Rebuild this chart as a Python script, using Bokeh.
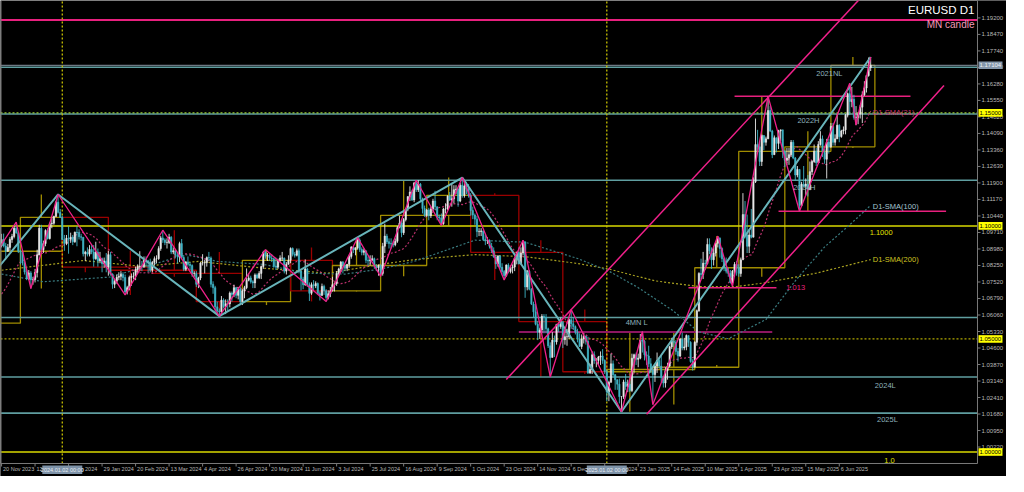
import pandas as pd
from bokeh.plotting import figure
from bokeh.models import Range1d
from bokeh.embed import file_html
from bokeh.resources import INLINE
from bokeh.core.properties import value

# ---------------- data (daily high, low, close) ----------------
pre_closes = [1.0668, 1.0590, 1.0565, 1.0563, 1.0565, 1.0615, 1.0575, 1.0570, 1.0620, 1.0730,
              1.0720, 1.0700, 1.0710, 1.0667, 1.0685, 1.0700, 1.0880, 1.0850, 1.0850, 1.0912]
nov_2023_month = (1.0570, 1.1017, 1.0517)  # month open, high, low (month began before view)

m2023_11 = [(1.0965,1.0905,1.0940),(1.0966,1.0905,1.0911),(1.0925,1.0852,1.0888),(1.0920,1.0885,1.0905),
            (1.0950,1.0890,1.0940),(1.0965,1.0925,1.0953),(1.1000,1.0945,1.0990),(1.1017,1.0965,1.0970),
            (1.0975,1.0880,1.0888)]
m2023_12 = [(1.0895,1.0830,1.0884),(1.0885,1.0825,1.0836),(1.0845,1.0785,1.0796),(1.0805,1.0760,1.0765),
            (1.0805,1.0760,1.0792),(1.0800,1.0723,1.0762),(1.0775,1.0740,1.0763),(1.0810,1.0750,1.0794),
            (1.0895,1.0772,1.0872),(1.1005,1.0870,1.0990),(1.1005,1.0890,1.0895),(1.0935,1.0880,1.0922),
            (1.0985,1.0910,1.0980),(1.0990,1.0940,1.0944),(1.1015,1.0940,1.1010),(1.1040,1.0990,1.1012),
            (1.1045,1.1005,1.1042),(1.1110,1.1040,1.1105),(1.1139,1.1055,1.1060),(1.1075,1.1035,1.1038)]
m2024_01 = [(1.1045,1.0938,1.0940),(1.0960,1.0890,1.0922),(1.0960,1.0915,1.0946),(1.0998,1.0877,1.0941),
            (1.0970,1.0925,1.0950),(1.0960,1.0915,1.0930),(1.0975,1.0925,1.0972),(1.0999,1.0910,1.0970),
            (1.0985,1.0940,1.0952),(1.0965,1.0935,1.0950),(1.0950,1.0865,1.0877),(1.0890,1.0845,1.0884),
            (1.0905,1.0865,1.0875),(1.0915,1.0865,1.0896),(1.0915,1.0875,1.0885),(1.0915,1.0820,1.0855),
            (1.0930,1.0850,1.0884),(1.0900,1.0820,1.0845),(1.0885,1.0835,1.0855),(1.0860,1.0795,1.0833),
            (1.0860,1.0815,1.0845),(1.0880,1.0795,1.0818)]
m2024_02 = [(1.0890,1.0780,1.0873),(1.0885,1.0780,1.0787),(1.0790,1.0722,1.0742),(1.0765,1.0725,1.0755),
            (1.0785,1.0745,1.0773),(1.0795,1.0760,1.0777),(1.0800,1.0760,1.0785),(1.0795,1.0755,1.0772),
            (1.0785,1.0695,1.0708),(1.0735,1.0697,1.0727),(1.0780,1.0715,1.0772),(1.0790,1.0735,1.0777),
            (1.0795,1.0765,1.0777),(1.0820,1.0760,1.0807),(1.0830,1.0790,1.0820),(1.0888,1.0800,1.0822),
            (1.0845,1.0800,1.0820),(1.0865,1.0815,1.0850),(1.0865,1.0820,1.0845),(1.0850,1.0795,1.0840),
            (1.0855,1.0795,1.0804)]
m2024_03 = [(1.0845,1.0795,1.0838),(1.0865,1.0825,1.0855),(1.0870,1.0835,1.0855),(1.0910,1.0850,1.0900),
            (1.0955,1.0890,1.0947),(1.0981,1.0925,1.0938),(1.0945,1.0915,1.0927),(1.0945,1.0900,1.0927),
            (1.0965,1.0920,1.0950),(1.0955,1.0875,1.0885),(1.0905,1.0875,1.0890),(1.0895,1.0860,1.0870),
            (1.0880,1.0835,1.0865),(1.0930,1.0840,1.0922),(1.0942,1.0855,1.0860),(1.0870,1.0800,1.0808),
            (1.0845,1.0800,1.0840),(1.0865,1.0820,1.0830),(1.0840,1.0805,1.0825),(1.0830,1.0775,1.0790),
            (1.0800,1.0775,1.0790)]
m2024_04 = [(1.0800,1.0730,1.0742),(1.0775,1.0725,1.0770),(1.0840,1.0760,1.0836),(1.0875,1.0825,1.0837),
            (1.0850,1.0790,1.0837),(1.0865,1.0820,1.0860),(1.0885,1.0845,1.0858),(1.0865,1.0728,1.0742),
            (1.0755,1.0700,1.0727),(1.0735,1.0620,1.0642),(1.0665,1.0615,1.0624),(1.0635,1.0601,1.0620),
            (1.0690,1.0612,1.0672),(1.0680,1.0635,1.0643),(1.0675,1.0610,1.0656),(1.0675,1.0625,1.0655),
            (1.0710,1.0640,1.0703),(1.0710,1.0665,1.0697),(1.0740,1.0685,1.0727),(1.0730,1.0680,1.0693),
            (1.0730,1.0675,1.0720),(1.0730,1.0650,1.0665)]
m2024_05 = [(1.0720,1.0650,1.0713),(1.0735,1.0680,1.0727),(1.0812,1.0720,1.0760),(1.0790,1.0755,1.0770),
            (1.0780,1.0745,1.0753),(1.0760,1.0725,1.0748),(1.0790,1.0725,1.0783),(1.0790,1.0765,1.0771),
            (1.0800,1.0765,1.0790),(1.0825,1.0765,1.0820),(1.0890,1.0810,1.0883),(1.0895,1.0855,1.0866),
            (1.0880,1.0845,1.0870),(1.0880,1.0845,1.0858),(1.0875,1.0840,1.0855),(1.0860,1.0815,1.0822),
            (1.0860,1.0805,1.0818),(1.0855,1.0810,1.0847),(1.0870,1.0840,1.0858),(1.0885,1.0845,1.0858),
            (1.0860,1.0790,1.0800),(1.0840,1.0785,1.0830),(1.0870,1.0830,1.0848)]
m2024_06 = [(1.0905,1.0835,1.0900),(1.0905,1.0865,1.0875),(1.0885,1.0860,1.0870),(1.0900,1.0865,1.0890),
            (1.0900,1.0790,1.0800),(1.0800,1.0715,1.0765),(1.0775,1.0720,1.0740),(1.0852,1.0735,1.0810),
            (1.0815,1.0730,1.0740),(1.0750,1.0668,1.0702),(1.0750,1.0695,1.0740),(1.0760,1.0715,1.0735),
            (1.0755,1.0725,1.0745),(1.0750,1.0695,1.0700),(1.0710,1.0670,1.0693),(1.0745,1.0690,1.0732),
            (1.0740,1.0695,1.0713),(1.0720,1.0666,1.0683),(1.0715,1.0675,1.0700),(1.0730,1.0685,1.0713)]
m2024_07 = [(1.0775,1.0710,1.0740),(1.0750,1.0710,1.0745),(1.0800,1.0735,1.0790),(1.0815,1.0780,1.0810),
            (1.0845,1.0795,1.0840),(1.0845,1.0790,1.0825),(1.0830,1.0800,1.0813),(1.0830,1.0800,1.0830),
            (1.0872,1.0815,1.0865),(1.0910,1.0855,1.0907),(1.0910,1.0880,1.0894),(1.0905,1.0870,1.0903),
            (1.0948,1.0895,1.0938),(1.0945,1.0885,1.0896),(1.0905,1.0870,1.0883),(1.0900,1.0870,1.0890),
            (1.0890,1.0835,1.0848),(1.0865,1.0825,1.0845),(1.0870,1.0825,1.0850),(1.0870,1.0845,1.0855),
            (1.0860,1.0810,1.0822),(1.0830,1.0800,1.0815),(1.0830,1.0780,1.0825)]
m2024_08 = [(1.0830,1.0777,1.0790),(1.0925,1.0780,1.0910),(1.1010,1.0880,1.0955),(1.0965,1.0920,1.0930),
            (1.0945,1.0900,1.0922),(1.0945,1.0900,1.0920),(1.0935,1.0905,1.0917),(1.0945,1.0910,1.0932),
            (1.1000,1.0925,1.0992),(1.1045,1.0990,1.1012),(1.1030,1.0950,1.0970),(1.1035,1.0960,1.1028),
            (1.1080,1.1020,1.1075),(1.1130,1.1065,1.1130),(1.1175,1.1110,1.1150),(1.1160,1.1110,1.1115),
            (1.1195,1.1105,1.1190),(1.1202,1.1150,1.1160),(1.1202,1.1150,1.1185),(1.1190,1.1110,1.1120),
            (1.1125,1.1055,1.1077),(1.1090,1.1040,1.1047)]
m2024_09 = [(1.1075,1.1040,1.1070),(1.1080,1.1025,1.1045),(1.1085,1.1035,1.1075),(1.1120,1.1065,1.1110),
            (1.1155,1.1070,1.1085),(1.1085,1.1025,1.1040),(1.1050,1.1020,1.1035),(1.1055,1.1002,1.1010),
            (1.1080,1.1005,1.1075),(1.1100,1.1055,1.1075),(1.1135,1.1070,1.1132),(1.1150,1.1110,1.1115),
            (1.1190,1.1085,1.1120),(1.1180,1.1100,1.1160),(1.1180,1.1140,1.1163),(1.1170,1.1085,1.1110),
            (1.1190,1.1105,1.1180),(1.1214,1.1125,1.1135),(1.1190,1.1125,1.1177),(1.1195,1.1140,1.1163),
            (1.1185,1.1125,1.1135)]
m2024_10 = [(1.1145,1.1045,1.1068),(1.1085,1.1030,1.1048),(1.1055,1.1005,1.1030),(1.1045,1.0950,1.0975),
            (1.0990,1.0955,1.0975),(1.0990,1.0955,1.0978),(1.0980,1.0935,1.0940),(1.0960,1.0915,1.0935),
            (1.0950,1.0920,1.0937),(1.0940,1.0900,1.0910),(1.0925,1.0880,1.0890),(1.0905,1.0860,1.0862),
            (1.0870,1.0810,1.0832),(1.0870,1.0820,1.0867),(1.0870,1.0810,1.0817),(1.0835,1.0785,1.0798),
            (1.0805,1.0761,1.0780),(1.0830,1.0775,1.0827),(1.0835,1.0790,1.0798),(1.0825,1.0790,1.0815),
            (1.0830,1.0790,1.0818),(1.0860,1.0800,1.0857),(1.0885,1.0830,1.0883)]
m2024_11 = [(1.0905,1.0830,1.0832),(1.0905,1.0860,1.0880),(1.0937,1.0870,1.0930),(1.0930,1.0682,1.0730),
            (1.0805,1.0715,1.0800),(1.0805,1.0715,1.0720),(1.0725,1.0650,1.0655),(1.0665,1.0595,1.0620),
            (1.0655,1.0560,1.0565),(1.0580,1.0495,1.0530),(1.0550,1.0500,1.0540),(1.0610,1.0525,1.0600),
            (1.0610,1.0525,1.0595),(1.0610,1.0525,1.0545),(1.0550,1.0460,1.0470),(1.0485,1.0332,1.0418),
            (1.0530,1.0420,1.0495),(1.0515,1.0420,1.0487),(1.0565,1.0475,1.0565),(1.0575,1.0530,1.0555),
            (1.0595,1.0545,1.0577)]
m2024_12 = [(1.0560,1.0460,1.0497),(1.0540,1.0475,1.0510),(1.0545,1.0470,1.0510),(1.0590,1.0500,1.0585),
            (1.0630,1.0545,1.0567),(1.0595,1.0540,1.0555),(1.0560,1.0520,1.0530),(1.0545,1.0485,1.0500),
            (1.0525,1.0465,1.0467),(1.0520,1.0455,1.0500),(1.0525,1.0480,1.0512),(1.0515,1.0475,1.0490),
            (1.0510,1.0345,1.0350),(1.0390,1.0345,1.0365),(1.0445,1.0345,1.0430),(1.0445,1.0390,1.0405),
            (1.0415,1.0375,1.0405),(1.0425,1.0385,1.0420),(1.0445,1.0385,1.0425),(1.0455,1.0390,1.0405),
            (1.0410,1.0345,1.0355)]
m2025_01 = [(1.0365,1.0225,1.0265),(1.0315,1.0225,1.0308),(1.0435,1.0310,1.0390),(1.0405,1.0335,1.0342),
            (1.0345,1.0275,1.0320),(1.0320,1.0275,1.0300),(1.0325,1.0215,1.0245),(1.0245,1.0178,1.0245),
            (1.0320,1.0235,1.0310),(1.0345,1.0275,1.0290),(1.0320,1.0265,1.0300),(1.0315,1.0265,1.0272),
            (1.0435,1.0265,1.0415),(1.0435,1.0350,1.0430),(1.0440,1.0385,1.0410),(1.0435,1.0375,1.0415),
            (1.0522,1.0410,1.0495),(1.0533,1.0440,1.0490),(1.0495,1.0405,1.0430),(1.0445,1.0385,1.0425),
            (1.0470,1.0375,1.0390),(1.0415,1.0350,1.0365)]
m2025_02 = [(1.0355,1.0210,1.0343),(1.0385,1.0310,1.0380),(1.0440,1.0350,1.0405),(1.0420,1.0370,1.0380),
            (1.0430,1.0310,1.0330),(1.0335,1.0285,1.0305),(1.0375,1.0285,1.0360),(1.0395,1.0320,1.0380),
            (1.0470,1.0375,1.0465),(1.0505,1.0455,1.0490),(1.0515,1.0465,1.0485),(1.0495,1.0430,1.0445),
            (1.0460,1.0400,1.0425),(1.0505,1.0420,1.0500),(1.0528,1.0450,1.0460),(1.0505,1.0450,1.0465),
            (1.0520,1.0450,1.0515),(1.0515,1.0465,1.0485),(1.0490,1.0395,1.0400),(1.0410,1.0360,1.0375)]
m2025_03 = [(1.0490,1.0385,1.0485),(1.0630,1.0470,1.0625),(1.0795,1.0620,1.0790),(1.0855,1.0765,1.0785),
            (1.0885,1.0765,1.0835),(1.0850,1.0805,1.0833),(1.0945,1.0830,1.0918),(1.0945,1.0875,1.0890),
            (1.0905,1.0810,1.0850),(1.0905,1.0825,1.0880),(1.0925,1.0865,1.0923),(1.0955,1.0905,1.0945),
            (1.0950,1.0860,1.0900),(1.0905,1.0840,1.0855),(1.0860,1.0800,1.0815),(1.0860,1.0790,1.0800),
            (1.0815,1.0775,1.0790),(1.0805,1.0745,1.0750),(1.0805,1.0733,1.0800),(1.0840,1.0775,1.0830),
            (1.0845,1.0780,1.0815)]
m2025_04 = [(1.0830,1.0775,1.0790),(1.0860,1.0775,1.0850),(1.1145,1.0860,1.1050),(1.1110,1.0945,1.0960),
            (1.1050,1.0880,1.0910),(1.0985,1.0880,1.0960),(1.1075,1.0945,1.0950),(1.1215,1.0950,1.1195),
            (1.1475,1.1190,1.1360),(1.1425,1.1325,1.1350),(1.1375,1.1265,1.1285),(1.1405,1.1265,1.1400),
            (1.1400,1.1335,1.1370),(1.1395,1.1355,1.1385),(1.1573,1.1385,1.1510),(1.1530,1.1415,1.1420),
            (1.1425,1.1300,1.1315),(1.1400,1.1315,1.1390),(1.1390,1.1325,1.1365),(1.1425,1.1340,1.1420),
            (1.1425,1.1375,1.1425),(1.1385,1.1300,1.1330)]
m2025_05 = [(1.1335,1.1260,1.1290),(1.1345,1.1270,1.1300),(1.1345,1.1270,1.1315),(1.1380,1.1305,1.1370),
            (1.1380,1.1295,1.1300),(1.1305,1.1200,1.1225),(1.1265,1.1215,1.1250),(1.1250,1.1065,1.1090),
            (1.1195,1.1085,1.1185),(1.1265,1.1170,1.1175),(1.1210,1.1135,1.1185),(1.1225,1.1130,1.1160),
            (1.1285,1.1165,1.1240),(1.1290,1.1225,1.1285),(1.1360,1.1280,1.1330),(1.1345,1.1265,1.1280),
            (1.1375,1.1285,1.1360),(1.1419,1.1355,1.1385),(1.1400,1.1305,1.1325),(1.1340,1.1275,1.1295),
            (1.1385,1.1210,1.1370),(1.1385,1.1320,1.1350)]
m2025_06 = [(1.1455,1.1345,1.1440),(1.1455,1.1355,1.1370),(1.1405,1.1355,1.1385),(1.1495,1.1385,1.1445),
            (1.1450,1.1370,1.1395),(1.1425,1.1390,1.1420),(1.1440,1.1405,1.1425),(1.1495,1.1405,1.1490),
            (1.1590,1.1480,1.1585),(1.1631,1.1490,1.1550),(1.1615,1.1525,1.1560),(1.1580,1.1470,1.1480),
            (1.1530,1.1446,1.1480),(1.1500,1.1450,1.1495),(1.1535,1.1475,1.1525),(1.1595,1.1455,1.1580),
            (1.1640,1.1575,1.1610),(1.1665,1.1590,1.1665),(1.1745,1.1660,1.1700),(1.1747,1.1685,1.1710)]

months = [m2023_11, m2023_12, m2024_01, m2024_02, m2024_03, m2024_04, m2024_05, m2024_06,
          m2024_07, m2024_08, m2024_09, m2024_10, m2024_11, m2024_12, m2025_01, m2025_02,
          m2025_03, m2025_04, m2025_05, m2025_06]

zigzag_small = [("2023-11-10", 1.0835), ("2023-11-29", 1.1017), ("2023-12-08", 1.0723), ("2023-12-28", 1.1139),
                ("2024-02-13", 1.0695), ("2024-03-08", 1.0981), ("2024-04-16", 1.0601), ("2024-05-16", 1.0895),
                ("2024-06-26", 1.0666), ("2024-07-17", 1.0948), ("2024-08-01", 1.0777), ("2024-08-26", 1.1202),
                ("2024-09-11", 1.1002), ("2024-09-25", 1.1214), ("2024-10-23", 1.0761), ("2024-11-05", 1.0937),
                ("2024-11-22", 1.0332), ("2024-12-06", 1.0630), ("2025-01-13", 1.0178), ("2025-01-27", 1.0533),
                ("2025-02-03", 1.0210), ("2025-03-18", 1.0955), ("2025-03-27", 1.0733), ("2025-04-21", 1.1573),
                ("2025-05-12", 1.1065), ("2025-06-13", 1.1631), ("2025-06-18", 1.1446), ("2025-06-27", 1.1747)]
zigzag_big = [("2023-10-03", 1.0448), ("2023-12-28", 1.1139), ("2024-04-16", 1.0601), ("2024-09-25", 1.1214),
              ("2025-01-13", 1.0178), ("2025-06-27", 1.1747)]

sma100_bar = [0, 20, 52, 88, 103, 125, 145, 164, 181, 197, 226, 250, 275, 290, 304, 320, 333, 347, 365, 379, 393, 405, 415]
sma100_val = [1.0787, 1.0753, 1.0774, 1.0873, 1.0843, 1.0830, 1.0791, 1.0787, 1.0809, 1.0843, 1.0937, 1.0928,
              1.0856, 1.0800, 1.0727, 1.0629, 1.0531, 1.0501, 1.0586, 1.0757, 1.0907, 1.1005, 1.1091]
sma200_bar = [0, 39, 67, 94, 125, 156, 181, 197, 226, 250, 275, 290, 312, 333, 351, 365, 389, 415]
sma200_val = [1.0804, 1.0847, 1.0821, 1.0843, 1.0813, 1.0791, 1.0830, 1.0851, 1.0873, 1.0864, 1.0834, 1.0809,
              1.0757, 1.0732, 1.0732, 1.0749, 1.0791, 1.0851]

channel_upper = [(241.0, 1.0321), (412.0, 1.2026)]
channel_lower = [(308.0, 1.0167), (450.0, 1.1621)]

levels_teal = [1.1702, 1.1495, 1.1202, 1.0595, 1.0332, 1.0172]
levels_yellow = [1.1000, 1.0000]
levels_dotted = [1.1500, 1.0500]
level_top = 1.1911
bid = 1.17104
segments_pink = [(350, 434, 1.1573), (371, 451, 1.1065), (328, 370, 1.0727)]
segment_purple = (247, 368, 1.0531)

y_ticks = [1.19200, 1.18470, 1.17740, 1.17010, 1.16280, 1.15550, 1.14820, 1.14090, 1.13360, 1.12630,
           1.11900, 1.11170, 1.10440, 1.09710, 1.08980, 1.08250, 1.07520, 1.06790, 1.06060, 1.05330,
           1.04600, 1.03870, 1.03140, 1.02410, 1.01680, 1.00950, 1.00220]
x_tick_labels = ["20 Nov 2023", "12 Dec 2023", "5 Jan 2024", "29 Jan 2024", "20 Feb 2024", "13 Mar 2024",
                 "4 Apr 2024", "26 Apr 2024", "20 May 2024", "11 Jun 2024", "3 Jul 2024", "25 Jul 2024",
                 "16 Aug 2024", "9 Sep 2024", "1 Oct 2024", "23 Oct 2024", "14 Nov 2024", "6 Dec 2024",
                 "31 Dec 2024", "23 Jan 2025", "14 Feb 2025", "10 Mar 2025", "1 Apr 2025", "23 Apr 2025",
                 "15 May 2025", "6 Jun 2025"]
year_marks = [("2024-01-02", "2024.01.02 00:00"), ("2025-01-02", "2025.01.02 00:00")]
price_tags = [(1.17104, "1.17104", "#8497ab", "#eef2f6"), (1.15, "1.15000", "#ffff00", "#000000"),
              (1.10, "1.10000", "#ffff00", "#000000"), (1.05, "1.05000", "#ffff00", "#000000"),
              (1.00, "1.00000", "#ffff00", "#000000")]

# ---------------- derived series ----------------
bars = [b for m in months for b in m]
highs = [b[0] for b in bars]
lows = [b[1] for b in bars]
closes = [b[2] for b in bars]
opens = [pre_closes[-1]] + closes[:-1]
n = len(bars)

cal = [d for d in pd.bdate_range("2023-09-01", "2025-08-29")
       if not ((d.month == 12 and d.day == 25) or (d.month == 1 and d.day == 1))]
start = cal.index(pd.Timestamp("2023-11-20"))
idx_of = {d.strftime("%Y-%m-%d"): i - start for i, d in enumerate(cal)}
dates = cal[start:start + n]
xs = list(range(n))

all_closes = pre_closes + closes
sma21 = [sum(all_closes[i:i + 21]) / 21.0 for i in range(n)]

# ---------------- canvas geometry ----------------
W, H = 1006, 476
X0, AX, XR = -0.5, 466.0, 479.85        # left edge, price-scale line, canvas right (bars)
Y0, YT, YB = 0.99492, 1.1997, 0.98917   # time-scale line, top, canvas bottom (price)
PXX = (XR - X0) / W                     # bars per pixel
PXY = (YT - YB) / H                     # price per pixel

UP = "#e8e8e8"
DN = "#3fb4c6"
BG = "#000000"
F = "Liberation Sans"
GR = "#7a7a7a"

p = figure(width=W, height=H, output_backend="svg", toolbar_location=None,
           x_range=Range1d(X0, XR), y_range=Range1d(YB, YT),
           background_fill_color=BG, border_fill_color=BG, min_border=0)
p.grid.visible = False
p.axis.visible = False
p.outline_line_color = None

# monthly candles
mn_keys = []
for d in dates:
    k = (d.year, d.month)
    if k not in mn_keys:
        mn_keys.append(k)
first_bar = {}
for d in cal:
    k = (d.year, d.month)
    if k not in first_bar:
        first_bar[k] = idx_of[d.strftime("%Y-%m-%d")]
q = dict(left=[], right=[], top=[], bottom=[], color=[])
wk = dict(x=[], y0=[], y1=[], color=[])
for k in mn_keys:
    ii = [i for i, d in enumerate(dates) if (d.year, d.month) == k]
    o = opens[ii[0]]
    h = max(highs[i] for i in ii)
    lo = min(lows[i] for i in ii)
    c = closes[ii[-1]]
    if k == (2023, 11):
        o = nov_2023_month[0]
        h = max(h, nov_2023_month[1])
        lo = min(lo, nov_2023_month[2])
    nk = (k[0] + (k[1] // 12), k[1] % 12 + 1)
    left, right = max(first_bar[k], X0), first_bar[nk]
    col = "#a08c00" if c >= o else "#9a0000"
    q["left"].append(left); q["right"].append(right)
    q["top"].append(max(o, c)); q["bottom"].append(min(o, c)); q["color"].append(col)
    mid = (first_bar[k] + right) / 2.0
    wk["x"] += [mid, mid]; wk["y0"] += [h, min(o, c)]; wk["y1"] += [max(o, c), lo]; wk["color"] += [col, col]
p.quad(left="left", right="right", top="top", bottom="bottom", source=q,
       fill_alpha=0, line_color="color", line_width=1.3)
p.segment(x0="x", x1="x", y0="y0", y1="y1", source=wk, line_color="color", line_width=1.3)

# horizontal levels (chart area only)
def hline(y, color, width, dash="solid"):
    p.segment(x0=[X0], x1=[AX], y0=[y], y1=[y], line_color=color, line_width=width, line_dash=dash)

for lv in levels_teal:
    hline(lv, "#5f9ea0", 1.6)
for lv in levels_yellow:
    hline(lv, "#d8d800", 1.5)
hline(levels_dotted[0], "#9acd32", 1.2, "2 2")
hline(levels_dotted[1], "#b0a800", 1.2, "2 2")
hline(level_top, "#e8207e", 2)
hline(bid, "#8a98a6", 1)

for d, _ in year_marks:
    p.segment(x0=[idx_of[d]], x1=[idx_of[d]], y0=[Y0], y1=[YT], line_color="#c8c000",
              line_width=1.3, line_dash="2 2")

for x0, x1, y in segments_pink:
    p.segment(x0=[x0], x1=[x1], y0=[y], y1=[y], line_color="#e8207e", line_width=1.5)
p.segment(x0=[segment_purple[0]], x1=[segment_purple[1]], y0=[segment_purple[2]], y1=[segment_purple[2]],
          line_color="#8c1660", line_width=2)

# moving averages
p.line(sma200_bar, sma200_val, line_color="#a8a020", line_width=1.2, line_dash="2 2")
p.line(sma100_bar, sma100_val, line_color="#3a7c80", line_width=1.2, line_dash="2 2")
p.line(xs, sma21, line_color="#b8306a", line_width=1.2, line_dash="2 2")

# candles
cols = [UP if c >= o else DN for o, c in zip(opens, closes)]
p.segment(x0=xs, x1=xs, y0=lows, y1=highs, line_color=cols, line_width=0.9)
p.vbar(x=xs, width=0.62, top=[max(o, c) for o, c in zip(opens, closes)],
       bottom=[min(o, c) for o, c in zip(opens, closes)], fill_color=cols, line_color=cols, line_width=0.6)

# zigzags and channel
zb_x = [idx_of[d] for d, _ in zigzag_big]
zb_y = [v for _, v in zigzag_big]
p.line(zb_x, zb_y, line_color="#68b4ba", line_width=2)
p.line([idx_of[d] for d, _ in zigzag_small], [v for _, v in zigzag_small], line_color="#f0208a", line_width=1.3)
for ch in (channel_upper, channel_lower):
    p.line([ch[0][0], ch[1][0]], [ch[0][1], ch[1][1]], line_color="#f0208a", line_width=1.5)

# cover anything drawn left of the chart's first pixel / outside the chart
p.quad(left=[AX], right=[XR], top=[YT], bottom=[YB], fill_color=BG, line_color=None)
p.quad(left=[X0], right=[XR], top=[Y0], bottom=[YB], fill_color=BG, line_color=None)

# chart texts
txts = [(389, 1.1672, "2021NL", "#8fb3bd"), (380, 1.1467, "2022H", "#8fb3bd"), (416, 1.1501, "D1-SMA(21)", "#c8306e"),
        (378, 1.1172, "2024H", "#8fb3bd"), (416, 1.1086, "D1-SMA(100)", "#a6c6d2"), (414.5, 1.0971, "1.1000", "#e0e000"),
        (416, 1.0851, "D1-SMA(200)", "#d0c420"), (374.7, 1.0727, "1.013", "#e8207e"), (298, 1.0573, "4MN L", "#8fb3bd"),
        (417, 1.0296, "2024L", "#8fb3bd"), (418, 1.0142, "2025L", "#8fb3bd")]
p.text(x=[t[0] for t in txts], y=[t[1] for t in txts], text=[t[2] for t in txts], text_color=[t[3] for t in txts],
       text_font=value(F), text_font_size="7.5px", text_baseline="middle", text_align="left")
p.text(x=[421.5], y=[Y0 + 0.4 * PXY], text=["1.0"], text_color="#e0e000", text_font=value(F),
       text_font_size="7.5px", text_baseline="bottom", text_align="left")

p.text(x=[AX - 3 * PXX], y=[YT - 9 * PXY], text=["EURUSD D1"], text_color="#ffffff", text_font=value(F),
       text_font_size="11.5px", text_align="right", text_baseline="middle")
p.text(x=[AX - 3 * PXX], y=[YT - 24 * PXY], text=["MN candle"], text_color="#f29ab8", text_font=value(F),
       text_font_size="10px", text_align="right", text_baseline="middle")

# frame lines
p.segment(x0=[X0 + 0.5 * PXX, X0, AX], x1=[X0 + 0.5 * PXX, AX, AX], y0=[Y0, Y0, Y0], y1=[YT, Y0, YT],
          line_color=GR, line_width=1)

# price scale (right)
p.segment(x0=[AX] * len(y_ticks), x1=[AX + 3 * PXX] * len(y_ticks), y0=y_ticks, y1=y_ticks,
          line_color=GR, line_width=1)
p.text(x=[AX + 4 * PXX] * len(y_ticks), y=y_ticks, text=["%.5f" % v for v in y_ticks], text_color="#b8b8b8",
       text_font=value(F), text_font_size="6px", text_baseline="middle", text_align="left")
for v, s, bgc, fc in price_tags:
    p.quad(left=[AX + 1 * PXX], right=[AX + 25 * PXX], top=[v + 3.8 * PXY], bottom=[v - 3.8 * PXY],
           fill_color=bgc, line_color=None)
    p.text(x=[AX + 2 * PXX], y=[v], text=[s], text_color=fc, text_font=value(F), text_font_size="6px",
           text_baseline="middle", text_align="left")

# time scale (bottom)
x_pos = [idx_of[pd.Timestamp(s).strftime("%Y-%m-%d")] for s in x_tick_labels]
p.segment(x0=x_pos, x1=x_pos, y0=[Y0] * len(x_pos), y1=[Y0 - 3 * PXY] * len(x_pos), line_color=GR, line_width=1)
p.text(x=[v + 1.5 * PXX for v in x_pos], y=[Y0 - 2.5 * PXY] * len(x_pos), text=x_tick_labels,
       text_color="#b8b8b8", text_font=value(F), text_font_size="5.5px", text_baseline="top", text_align="left")
for d, s in year_marks:
    xm = idx_of[d]
    p.quad(left=[xm - 20 * PXX], right=[xm + 20 * PXX], top=[Y0 - 2 * PXY], bottom=[Y0 - 10.5 * PXY],
           fill_color="#7d92a8", line_color=None)
    p.text(x=[xm], y=[Y0 - 6.3 * PXY], text=[s], text_color="#e8eef4", text_font=value(F),
           text_font_size="5.5px", text_baseline="middle", text_align="center")

open("out.html", "w").write(file_html(p, INLINE))
